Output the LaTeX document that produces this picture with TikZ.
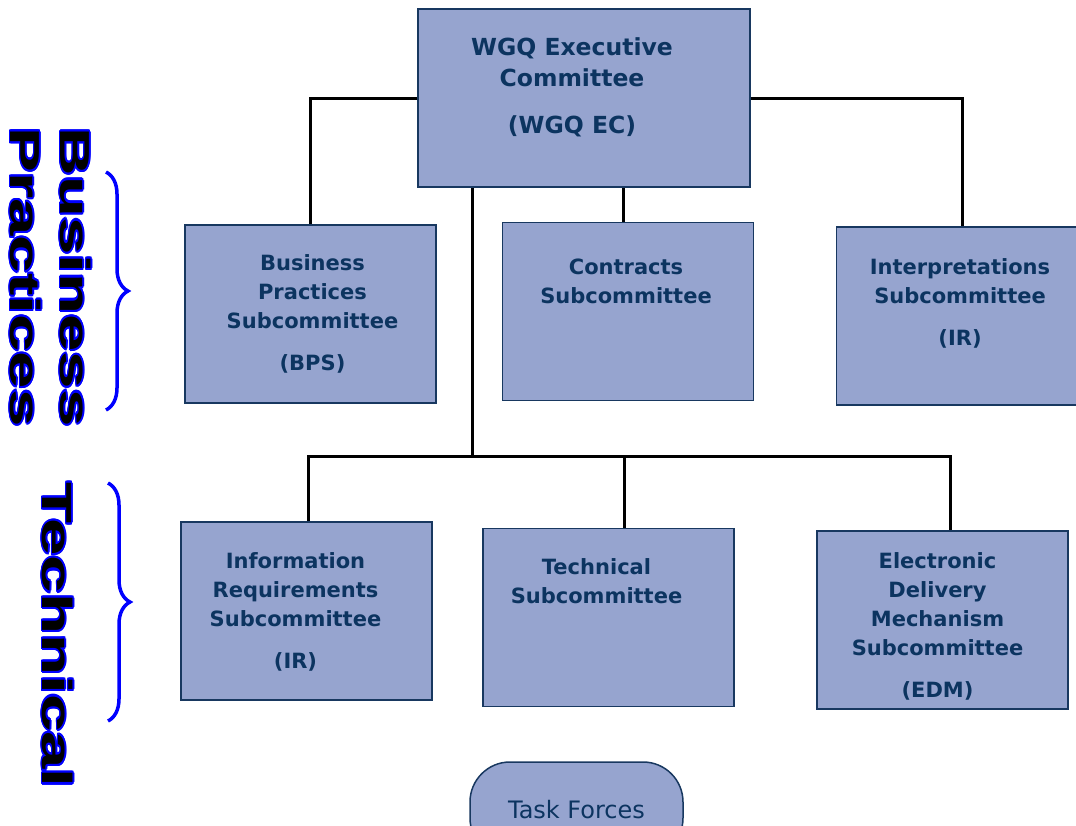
\documentclass[tikz,border=0pt]{standalone}
\usepackage{fontspec}
\setmainfont{DejaVu Sans}
\newfontfamily\sidefont{Liberation Sans}
\usepackage{contour}
\contourlength{1.4pt}
\usetikzlibrary{positioning}
\usetikzlibrary{decorations.pathreplacing}
\definecolor{UnitFill}{RGB}{150,164,207}
\definecolor{UnitLine}{RGB}{24,56,96}
\definecolor{UnitText}{RGB}{12,52,96}
\definecolor{SideBlue}{RGB}{0,0,255}
\tikzset{
  unit/.style={draw=UnitLine, line width=1.5pt, fill=UnitFill,
    minimum width=251pt, minimum height=178pt, inner sep=0pt},
  unittext/.style={inner sep=0pt, align=center, text=UnitText,
    font=\bfseries\fontsize{21}{29}\selectfont},
  link/.style={line width=3pt},
  sidebrace/.style={SideBlue, line width=3.5pt, decorate,
    decoration={brace, amplitude=22pt}},
  sidelabel/.style={rotate=-90, xscale=1.6, align=center, inner sep=0pt,
    font=\sidefont\bfseries\fontsize{42}{50}\selectfont}
}
\begin{document}
\begin{tikzpicture}[x=1pt,y=-1pt]
  \useasboundingbox (0,0) rectangle (1076,825);
  % committee boxes
  \node[unit, minimum width=332pt] (ec) at (584,98) {};
  \node[unit] (bps) at (310.5,314) {};
  \node[unit] (con) at (628,311.5) {};
  \node[unit] (itp) at (962,316) {};
  \node[unit] (irq) at (306.5,611) {};
  \node[unit] (tec) at (608.5,617.5) {};
  \node[unit] (edm) at (942.5,620) {};
  \node[draw=UnitLine, line width=1.5pt, fill=UnitFill, rounded corners=40pt,
    minimum width=213pt, minimum height=96pt, text=UnitText,
    font=\fontsize{24}{30}\selectfont] (tf) at (576.5,810) {Task Forces};
  % box texts
  \node[unittext, font=\bfseries\fontsize{23.5}{31}\selectfont,
    below=29pt of ec.north, xshift=-12pt] (ec-text)
    {WGQ Executive\\Committee\\[16pt](WGQ EC)};
  \node[unittext, below=30pt of bps.north, xshift=2pt] (bps-text)
    {Business\\Practices\\Subcommittee\\[13pt](BPS)};
  \node[unittext, below=37pt of con.north, xshift=-2pt] (con-text)
    {Contracts\\Subcommittee};
  \node[unittext, below=32pt of itp.north, xshift=-2pt] (itp-text)
    {Interpretations\\Subcommittee\\[13pt](IR)};
  \node[unittext, below=31pt of irq.north, xshift=-11pt] (irq-text)
    {Information\\Requirements\\Subcommittee\\[13pt](IR)};
  \node[unittext, below=31pt of tec.north, xshift=-12pt] (tec-text)
    {Technical\\Subcommittee};
  \node[unittext, below=22pt of edm.north, xshift=-5pt] (edm-text)
    {Electronic\\Delivery\\Mechanism\\Subcommittee\\[13pt](EDM)};
  % connectors
  \draw[link] (ec.west) -| (bps.north);
  \draw[link] (ec.east) -| (itp.north);
  \draw[link] ([xshift=-5pt]con.north) -- ([xshift=-5pt]con.north |- ec.south);
  \coordinate (trunk) at (472,456);
  \draw[link] (ec.south -| trunk) -- (trunk);
  \draw[link] ([xshift=2pt]irq.north) |- (trunk) -| ([xshift=8pt]edm.north);
  \draw[link] ([xshift=16pt]tec.north) -- ([xshift=16pt]tec.north |- trunk);
  % side groups
  \draw[sidebrace] (106,172) -- (106,410);
  \draw[sidebrace] (108,483) -- (108,721);
  \node[sidelabel] (bp-label) at (50,277)
    {\contour{SideBlue}{Business}\\\contour{SideBlue}{Practices}};
  \node[sidelabel] (tech-label) at (57,635) {\contour{SideBlue}{Technical}};
\end{tikzpicture}
\end{document}
